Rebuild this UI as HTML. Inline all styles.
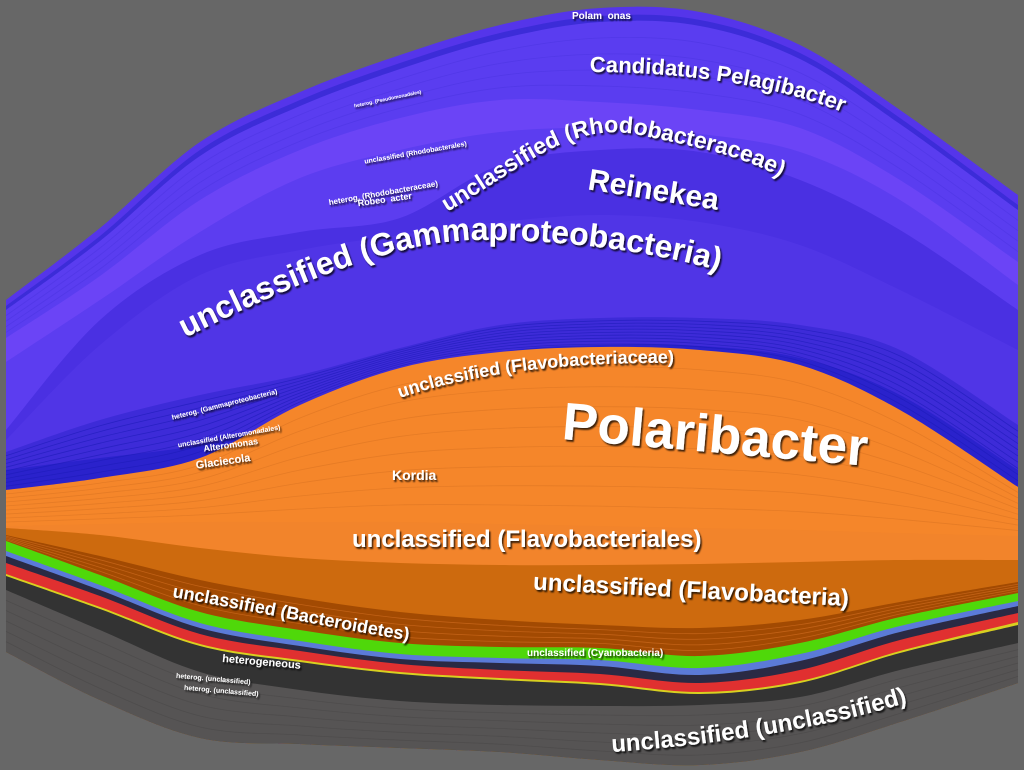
<!DOCTYPE html>
<html><head><meta charset="utf-8"><style>
html,body{margin:0;padding:0;background:#676767;}
svg{display:block}
text{font-family:"Liberation Sans",sans-serif;font-weight:bold;fill:#fff;}
</style></head><body>
<svg id="s" width="1024" height="770" viewBox="0 0 1024 770" xmlns="http://www.w3.org/2000/svg">
<defs>
<filter id="sh" x="-10%" y="-30%" width="120%" height="160%"><feDropShadow dx="1.5" dy="2" stdDeviation="0.8" flood-color="#000" flood-opacity="0.75"/></filter>
<path id="pRho" d="M447,212 C520,170 570,120 640,135 S770,160 810,200"/>
<path id="pGam" d="M185,338 C300,280 400,240 480,240 S660,250 750,280"/>
<path id="pFlc" d="M400,398 C480,370 600,358 720,365"/>
<path id="pBac" d="M172,597 C260,612 350,632 420,642"/>
<path id="pUnc" d="M612,752 C720,745 850,725 945,690"/>
<path id="pPel" d="M590,72 C680,72 800,85 875,128"/>
</defs>
<g id="layers"></g>
<g id="lines" fill="none"></g>
<g filter="url(#sh)">
<text x="572" y="19" font-size="10">Polam&#160;&#160;onas</text>
<text font-size="22"><textPath href="#pPel">Candidatus Pelagibacter</textPath></text>
<text font-size="23"><textPath href="#pRho">unclassified (Rhodobacteraceae)</textPath></text>
<text x="587" y="200" font-size="30" transform="rotate(9 655 195)">Reinekea</text>
<text font-size="32"><textPath href="#pGam">unclassified (Gammaproteobacteria)</textPath></text>
<text font-size="18"><textPath href="#pFlc">unclassified (Flavobacteriaceae)</textPath></text>
<text x="562" y="452" font-size="53" transform="rotate(5 710 435)">Polaribacter</text>
<text x="392" y="480" font-size="14">Kordia</text>
<text x="352" y="547" font-size="24">unclassified (Flavobacteriales)</text>
<text x="533" y="598" font-size="24" transform="rotate(3 695 590)">unclassified (Flavobacteria)</text>
<text font-size="18"><textPath href="#pBac">unclassified (Bacteroidetes)</textPath></text>
<text x="527" y="656" font-size="10">unclassified (Cyanobacteria)</text>
<text x="222" y="665" font-size="11" transform="rotate(5 258 663)">heterogeneous</text>
<text x="176" y="680" font-size="7" transform="rotate(5 200 678)">heterog. (unclassified)</text>
<text x="184" y="692" font-size="7" transform="rotate(5 210 690)">heterog. (unclassified)</text>
<text font-size="24"><textPath href="#pUnc">unclassified (unclassified)</textPath></text>
<text x="168" y="408" font-size="7" transform="rotate(-14 218 396)">heterog. (Gammaproteobacteria)</text>
<text x="176" y="439" font-size="7" transform="rotate(-10 225 430)">unclassified (Alteromonadales)</text>
<text x="203" y="449" font-size="9" transform="rotate(-8 222 444)">Alteromonas</text>
<text x="195" y="465" font-size="11" transform="rotate(-8 222 458)">Glaciecola</text>
<text x="327" y="196" font-size="8" transform="rotate(-10 380 188)">heterog. (Rhodobacteraceae)</text>
<text x="357" y="202" font-size="9" transform="rotate(-8 388 196)">Robeo&#160;&#160;acter</text>
<text x="363" y="156" font-size="7" transform="rotate(-10 408 150)">unclassified (Rhodobacterales)</text>
<text x="353" y="102" font-size="5" transform="rotate(-12 380 98)">heterog. (Pseudomonadales)</text>
</g>
</svg>
<script>
var X=[6,100,200,300,400,500,600,700,800,900,1018];
var bottom=[652,700,738,744,748,752,760,765,752,722,683];
var L=[
["#5535ea",[300,228,142,92,55,25,8,12,45,110,195]],
["#3c2cd8",[306,236,150,100,63,33,16,20,53,118,205]],
["#5a3df0",[310,241,156,106,69,39,22,26,59,124,210]],
["#6b44f6",[338,276,200,150,118,100,102,110,128,180,262]],
["#5c3df0",[362,300,232,178,150,132,128,134,152,200,285]],
["#4a30e2",[430,320,255,232,218,165,150,152,180,230,310]],
["#5035e6",[440,345,275,250,235,222,215,222,245,290,350]],
["#3d2bd8",[452,420,395,375,348,325,318,318,325,350,425]],
["#2a22cc",[470,458,445,420,380,352,345,346,358,395,470]],
["#f5862a",[490,478,458,405,368,352,347,350,365,410,487]],
["#f2842b",[526,524,522,522,522,524,526,528,530,533,536]],
["#cd6a0e",[528,535,548,558,563,565,565,564,562,560,560]],
["#a24a02",[535,556,580,598,612,620,625,628,620,602,582]],
["#4fd80a",[541,575,612,630,643,647,648,656,643,617,593]],
["#5b7ad8",[551,585,623,641,654,658,660,668,654,626,601]],
["#2a2a44",[556,590,628,646,659,663,666,675,661,632,606]],
["#e03030",[563,596,634,651,664,670,674,683,670,640,613]],
["#d8d020",[574,607,644,660,672,678,683,692,681,651,622]],
["#333333",[576,609,646,662,674,680,685,694,683,653,625]],
["#565454",[590,630,672,690,701,705,706,705,697,670,643]]
];
function cr(pts){var d="M"+pts[0][0]+","+pts[0][1];
for(var i=0;i<pts.length-1;i++){var p0=pts[Math.max(i-1,0)],p1=pts[i],p2=pts[i+1],p3=pts[Math.min(i+2,pts.length-1)];
d+=" C"+(p1[0]+(p2[0]-p0[0])/6)+","+(p1[1]+(p2[1]-p0[1])/6)+" "+(p2[0]-(p3[0]-p1[0])/6)+","+(p2[1]-(p3[1]-p1[1])/6)+" "+p2[0]+","+p2[1];}
return d;}
function crRev(pts){var r=pts.slice().reverse();var d=cr(r);return " L"+d.slice(1);}
var bp=X.map(function(x,i){return [x,bottom[i]];});
var g=document.getElementById("layers"),h="";
L.forEach(function(l){var tp=X.map(function(x,i){return [x,l[1][i]];});
h+='<path fill="'+l[0]+'" d="'+cr(tp)+crRev(bp)+' Z"/>';});
g.innerHTML=h;
var ln="",k;
function addLines(a,b,n,col,op){for(k=1;k<n;k++){var t=k/n;var pts=X.map(function(x,i){return [x,a[i]+(b[i]-a[i])*t];});
ln+='<path stroke="'+col+'" stroke-opacity="'+op+'" stroke-width="0.8" d="'+cr(pts)+'"/>';}}
addLines(L[7][1],L[9][1],10,"#1c1ab8",0.6);
addLines(L[2][1],L[3][1],5,"#4a34e0",0.5);
addLines(L[9][1],L[10][1],9,"#c8661c",0.35);
addLines(L[12][1],L[13][1],5,"#e0782a",0.5);
addLines(L[19][1],bottom,6,"#4a4848",0.6);
document.getElementById("lines").innerHTML=ln;
</script>
</body></html>
